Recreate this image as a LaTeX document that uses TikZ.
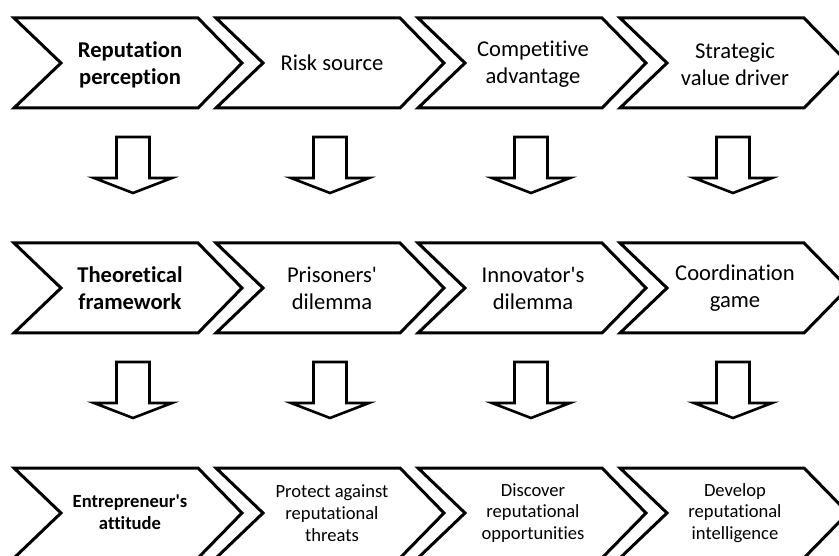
\documentclass[tikz,border=0pt]{standalone}
\usepackage{fontspec}
\setmainfont{Carlito}[Ligatures={TeXOff,NoCommon}]
\newcommand\mychev[2]{\draw[chevline] (#1,#2) -- ++(184,0) -- ++(44,45) -- ++(-44,45) -- ++(-184,0) -- ++(47,-45) -- cycle;}
\newcommand\mydarrow[1]{\draw[barrow] (#1) ++(-16.5,0) -- ++(33,0) -- ++(0,41) -- ++(22.5,0) -- ++(-39,15) -- ++(-39,-15) -- ++(22.5,0) -- cycle;}
\begin{document}
\begin{tikzpicture}[x=1pt,y=-1pt,
  chevline/.style={line width=3pt, line join=miter},
  barrow/.style={line width=2.6pt, line join=miter},
  big/.style={font=\fontsize{22.6}{27}\selectfont, align=center, inner sep=0pt},
  small/.style={font=\fontsize{18.6}{21.7}\selectfont, align=center, inner sep=0pt}]
\useasboundingbox (0,0) rectangle (839,556);
\clip (0,0) rectangle (839,556);
% chevrons
\foreach \yy in {18,243,468}{
  \foreach \xx in {14,216,418,620}{
    \mychev{\xx}{\yy}
  }
}
% row 1
\node[big] (a1) at (130,64.5) {\textbf{Reputation}\\\textbf{perception}};
\node[big] (a2) at (332,63) {Risk source};
\node[big] (a3) at (533,64.5) {Competitive\\advantage};
\node[big] (a4) at (735,64.5) {Strategic\\value driver};
% row 2
\node[big] (b1) at (130,288) {\textbf{Theoretical}\\\textbf{framework}};
\node[big] (b2) at (332,288) {Prisoners'\\dilemma};
\node[big] (b3) at (533,288) {Innovator's\\dilemma};
\node[big] (b4) at (735,288.5) {Coordination\\game};
% row 3
\node[small] (c1) at (130,512) {\textbf{Entrepreneur's}\\\textbf{attitude}};
\node[small] (c2) at (332,513) {Protect against\\reputational\\threats};
\node[small] (c3) at (533,513) {Discover\\reputational\\opportunities};
\node[small] (c4) at (735,513) {Develop\\reputational\\intelligence};
% block arrows
\foreach \cx/\n in {133/1,330/2,531/3,733/4}{
  \coordinate (ua\n) at (\cx,137);
  \coordinate (ub\n) at (\cx,362);
}
\foreach \n in {1,2,3,4}{
  \mydarrow{ua\n}
  \mydarrow{ub\n}
}
\end{tikzpicture}
\end{document}
